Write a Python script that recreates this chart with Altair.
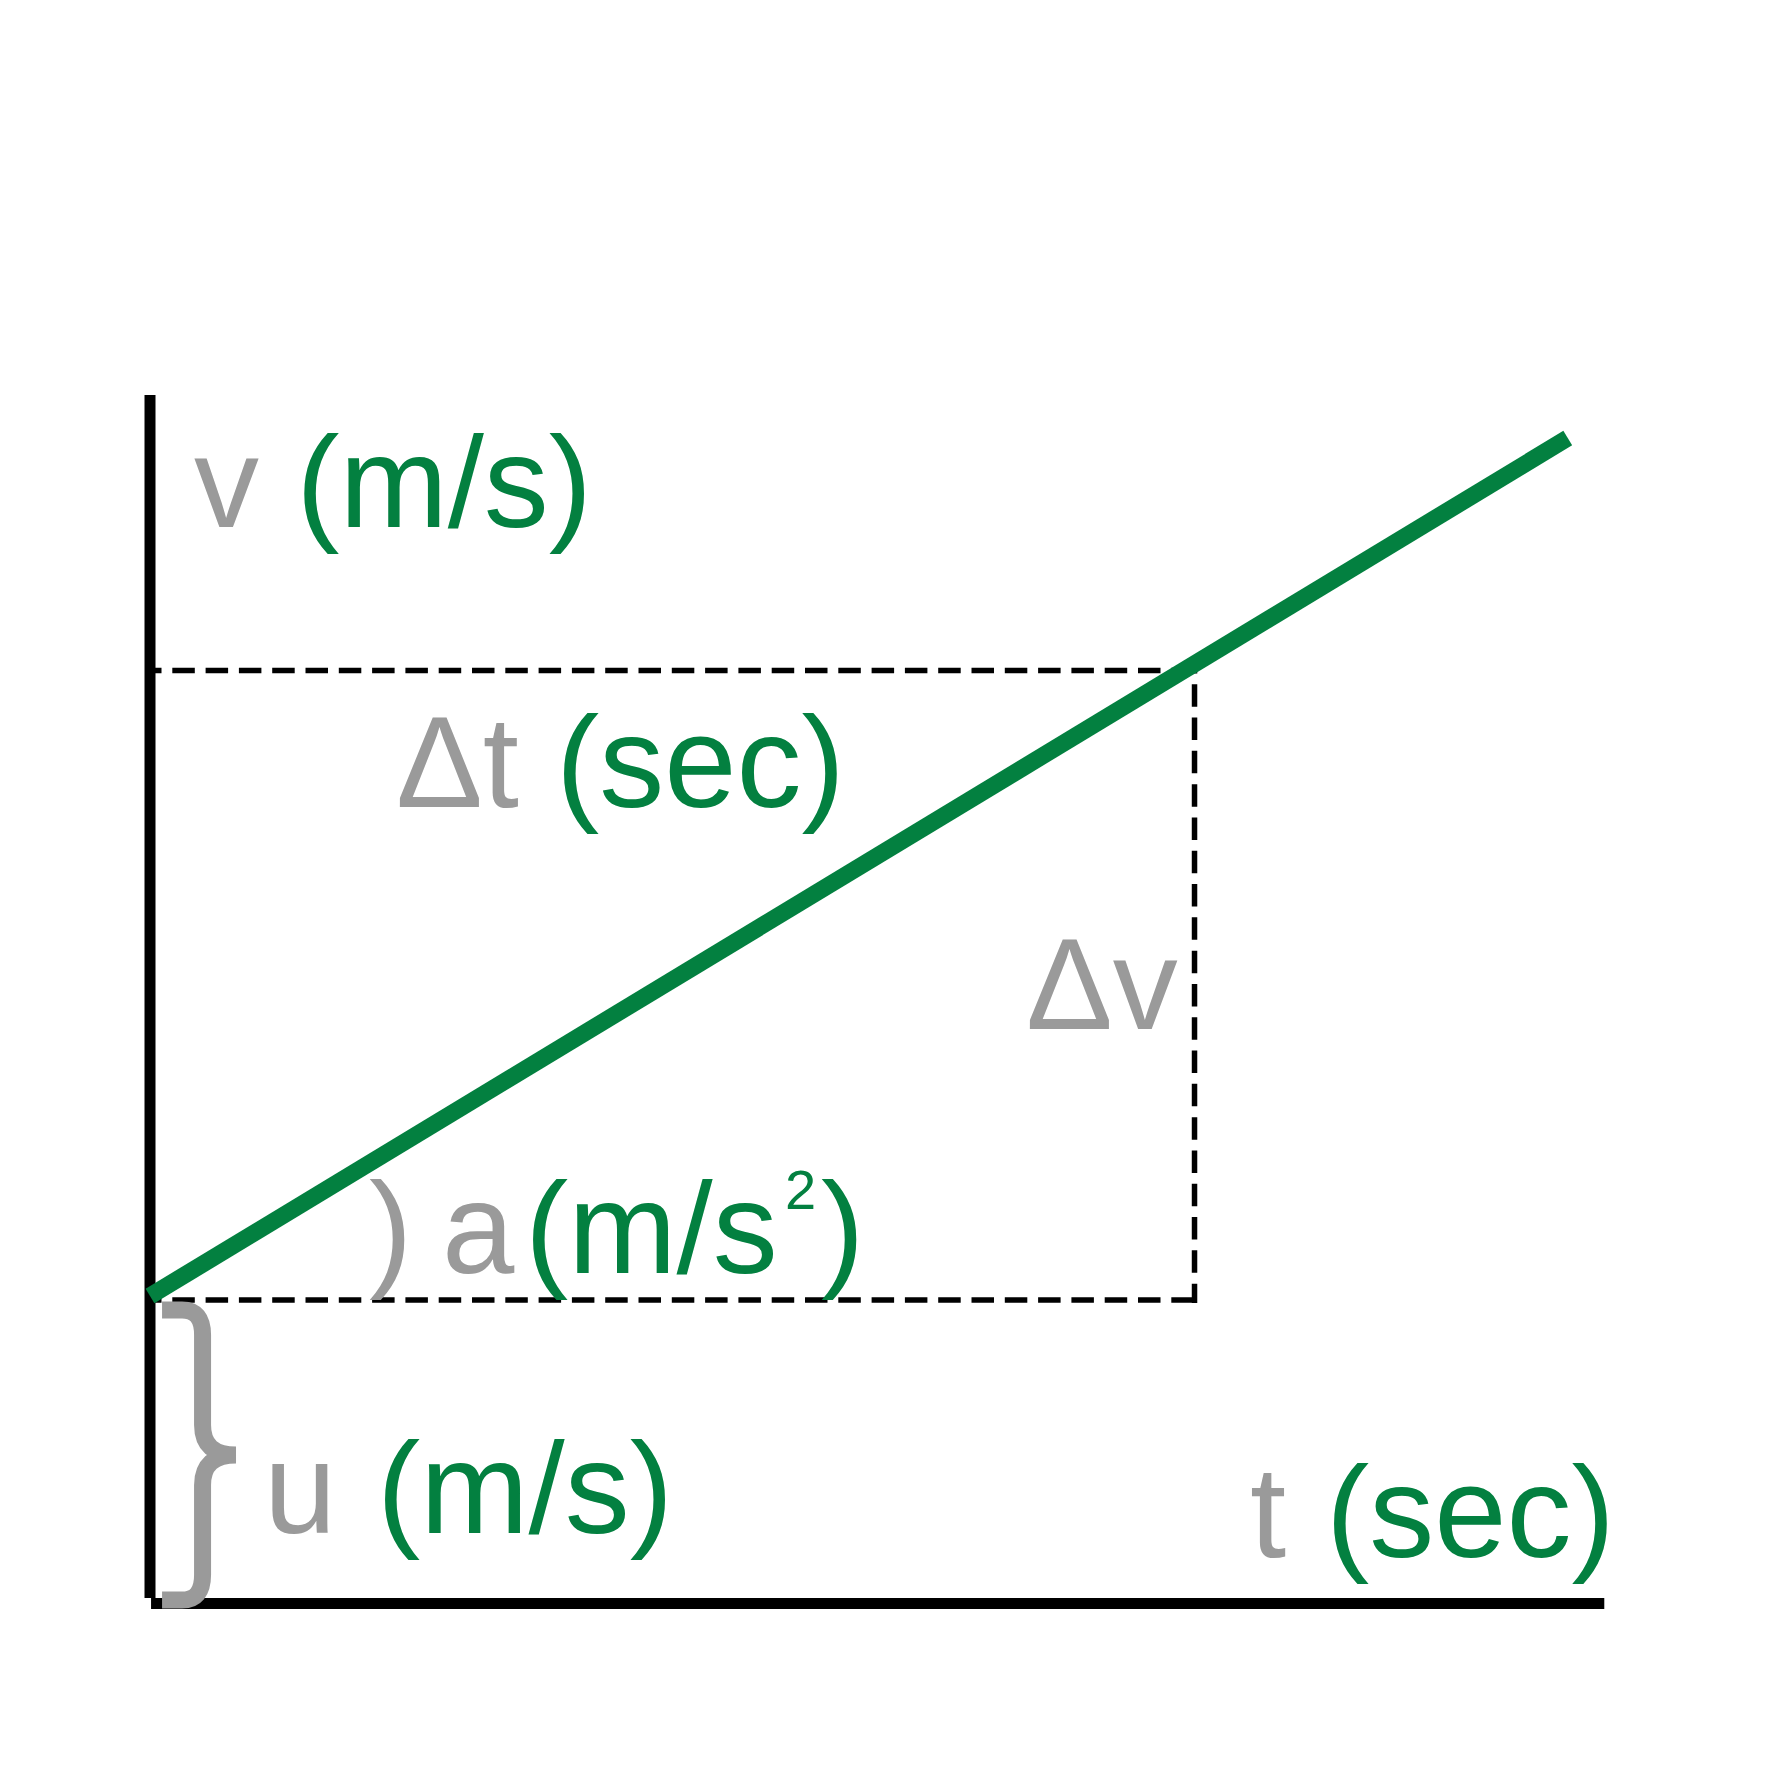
import altair as alt
import pandas as pd

GREEN = "#038040"
GRAY = "#9a9a9a"
BLACK = "#000000"
FONT = "Liberation Sans, Arial, Helvetica, sans-serif"
FS = 130      # main label size
FS_SUP = 56   # superscript size

# Velocity line (green): start and end points (t, v)
line_t = [0.0, 13.58]
line_v = [2.0, 7.58]

# Dashed guides
u_level = 1.974          # initial velocity level (lower dashed)
v_level = 6.068          # final velocity level (upper dashed)
t_level = 10.005         # time of the vertical dashed guide
guide_t_end = 10.03
vert_top = 6.085
vert_bottom = 1.954

# Axis extents
t_axis = [0.01, 13.93]
v_axis = [0.036, 7.86]

# Labels: text pieces, positions in (t, v) data units, colours, sizes
label_text = ["v", "(m/s)", "Δt", "(sec)", "Δv", ")", "a", "(m/s", "2", ")",
              "u", "(m/s)", "t", "(sec)"]
label_t = [0.421, 1.40, 2.356, 3.889, 8.391, 2.098, 2.797, 3.592, 6.083, 6.428,
           1.092, 2.174, 10.536, 11.264]
label_v = [7.00, 7.00, 5.18, 5.18, 3.737, 2.15, 2.15, 2.15, 2.568, 2.15,
           0.4585, 0.4585, 0.3024, 0.3024]
label_color = [GRAY, GREEN, GRAY, GREEN, GRAY, GRAY, GRAY, GREEN, GREEN, GREEN,
               GRAY, GREEN, GRAY, GREEN]
label_size = [FS, FS, FS, FS, FS, FS, FS, FS, FS_SUP, FS, FS, FS, FS, FS]

# Brace marking u on the v axis
brace_t = [0.479]
brace_v = [0.966]
BRACE_PATH = ("M -0.253 -0.967 L -0.12 -0.967 Q 0.017 -0.967 0.017 -0.8 L 0.017 -0.2 "
              "Q 0.017 0 0.24 0 Q 0.017 0 0.017 0.2 L 0.017 0.8 "
              "Q 0.017 0.967 -0.12 0.967 L -0.253 0.967")

xs = alt.Scale(domain=[-1.3602, 15.5556], nice=False, zero=False)
ys = alt.Scale(domain=[-1.1089, 10.3772], nice=False, zero=False)

# Axes
yaxis_df = pd.DataFrame({"t": [0.0], "v0": [v_axis[0]], "v1": [v_axis[1]]})
xaxis_df = pd.DataFrame({"t0": [t_axis[0]], "t1": [t_axis[1]], "v": [0.0]})

yaxis = alt.Chart(yaxis_df).mark_rule(color=BLACK, strokeWidth=11, strokeCap="butt").encode(
    x=alt.X("t:Q", scale=xs, axis=None),
    y=alt.Y("v0:Q", scale=ys, axis=None),
    y2="v1:Q",
)
xaxis = alt.Chart(xaxis_df).mark_rule(color=BLACK, strokeWidth=11, strokeCap="butt").encode(
    x=alt.X("t0:Q", scale=xs, axis=None),
    x2="t1:Q",
    y=alt.Y("v:Q", scale=ys, axis=None),
)

# Dashed guides
hdash_df = pd.DataFrame({"t0": [0.0, 0.0], "t1": [guide_t_end, guide_t_end],
                         "v": [v_level, u_level]})
hdash = alt.Chart(hdash_df).mark_rule(color=BLACK, strokeWidth=5.5, strokeCap="butt",
                                      strokeDash=[22.5, 10.8], strokeDashOffset=11).encode(
    x=alt.X("t0:Q", scale=xs, axis=None),
    x2="t1:Q",
    y=alt.Y("v:Q", scale=ys, axis=None),
)
vdash_df = pd.DataFrame({"t": [t_level], "v0": [vert_top], "v1": [vert_bottom]})
vdash = alt.Chart(vdash_df).mark_rule(color=BLACK, strokeWidth=5.5, strokeCap="butt",
                                      strokeDash=[22.5, 10.8], strokeDashOffset=17).encode(
    x=alt.X("t:Q", scale=xs, axis=None),
    y=alt.Y("v0:Q", scale=ys, axis=None),
    y2="v1:Q",
)

# Brace
brace_df = pd.DataFrame({"t": brace_t, "v": brace_v})
brace = alt.Chart(brace_df).mark_point(shape=BRACE_PATH, size=90000, filled=False,
                                       stroke=GRAY, strokeWidth=17, opacity=1,
                                       strokeCap="butt").encode(
    x=alt.X("t:Q", scale=xs, axis=None),
    y=alt.Y("v:Q", scale=ys, axis=None),
)

# Velocity line
line_df = pd.DataFrame({"t": line_t, "v": line_v})
vline = alt.Chart(line_df).mark_line(color=GREEN, strokeWidth=17, strokeCap="butt").encode(
    x=alt.X("t:Q", scale=xs, axis=None),
    y=alt.Y("v:Q", scale=ys, axis=None),
)

# Labels
label_df = pd.DataFrame({"text": label_text, "t": label_t, "v": label_v,
                         "color": label_color, "fs": label_size})
labels = alt.Chart(label_df).mark_text(font=FONT, align="left",
                                       baseline="alphabetic").encode(
    x=alt.X("t:Q", scale=xs, axis=None),
    y=alt.Y("v:Q", scale=ys, axis=None),
    text="text:N",
    color=alt.Color("color:N", scale=None),
    size=alt.Size("fs:Q", scale=None),
)

chart = alt.layer(yaxis, xaxis, hdash, vdash, brace, vline, labels).properties(
    width=1766, height=1766, autosize="none", padding=0, background="white"
).configure_view(strokeWidth=0)

chart.save("out.html", embed_options={"renderer": "svg", "actions": False})
